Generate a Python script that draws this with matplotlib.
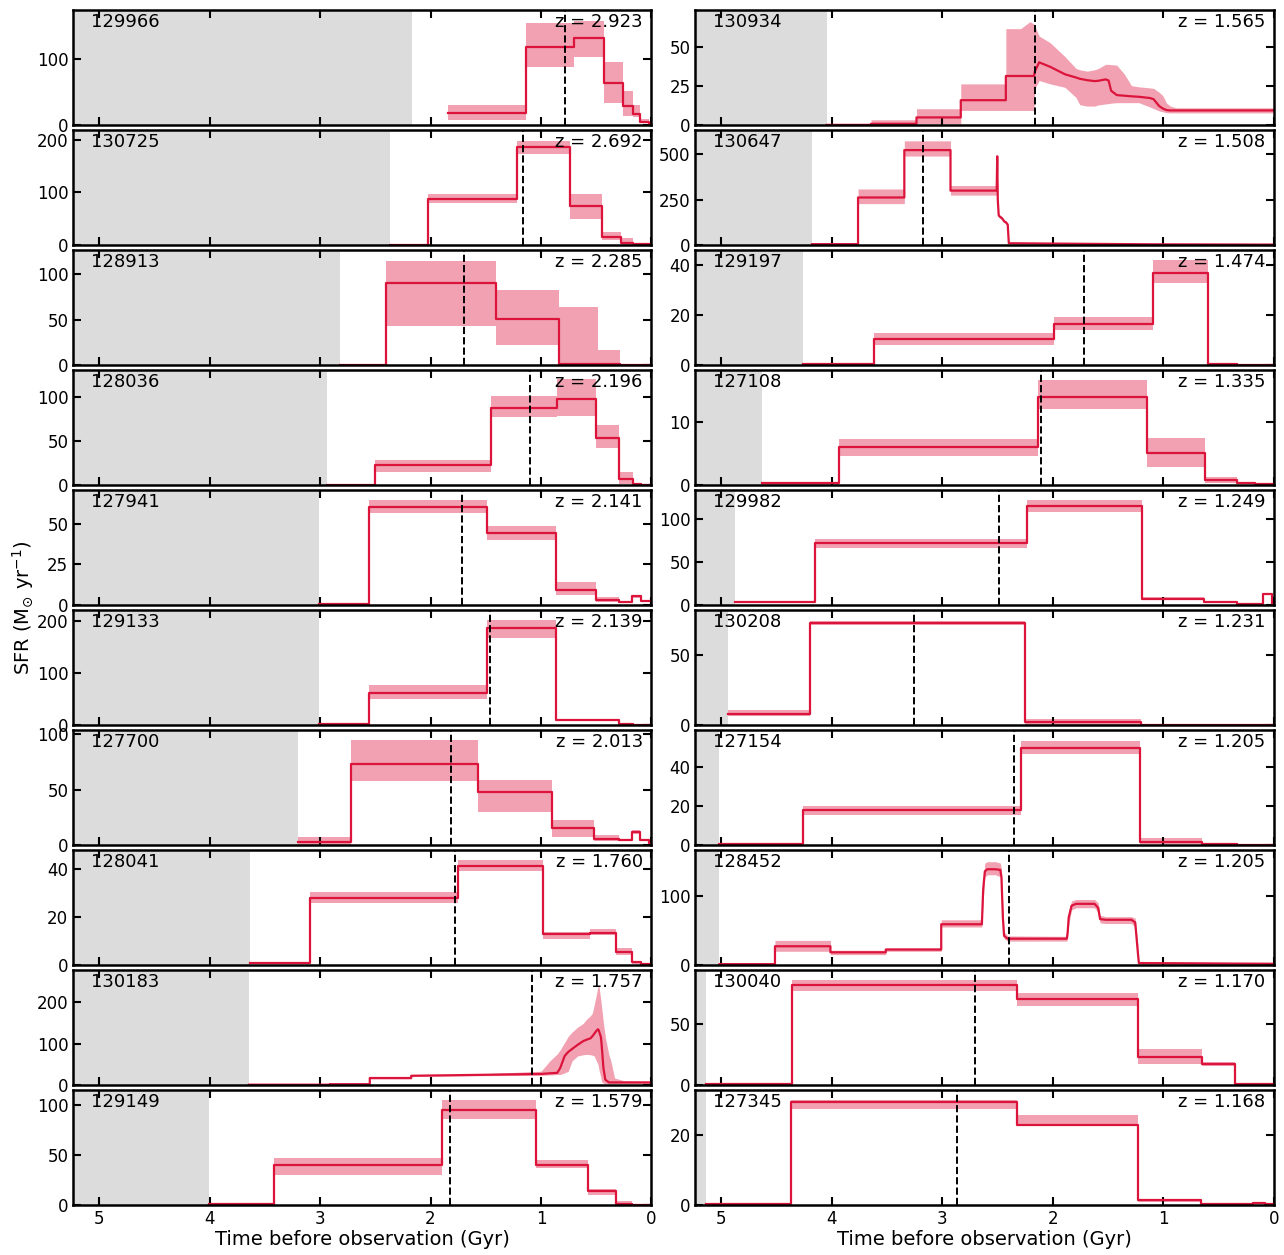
import numpy as np
import matplotlib.pyplot as plt

# ---------------- panel settings (left column top->bottom, then right column) ----------------
ids = ['129966', '130725', '128913', '128036', '127941', '129133', '127700', '128041', '130183', '129149',
       '130934', '130647', '129197', '127108', '129982', '130208', '127154', '128452', '130040', '127345']
zs = [2.923, 2.692, 2.285, 2.196, 2.141, 2.139, 2.013, 1.760, 1.757, 1.579,
      1.565, 1.508, 1.474, 1.335, 1.249, 1.231, 1.205, 1.205, 1.170, 1.168]
t_grey = [2.17, 2.37, 2.82, 2.94, 3.01, 3.01, 3.20, 3.637, 3.644, 4.01,
          4.047, 4.18, 4.26, 4.632, 4.877, 4.939, 5.018, 5.018, 5.137, 5.137]
t_dash = [0.785, 1.166, 1.70, 1.10, 1.716, 1.464, 1.813, 1.782, 1.083, 1.82,
          2.164, 3.177, 1.722, 2.105, 2.484, 3.256, 2.347, 2.40, 2.708, 2.87]
ymax = [175, 218, 127, 131, 71, 221, 104, 48, 279, 115,
        74, 635, 46, 18.2, 134.5, 82, 59, 167, 94, 32.7]
yticks = [[0, 100], [0, 100, 200], [0, 50, 100], [0, 50, 100], [0, 25, 50],
          [0, 100, 200], [0, 50, 100], [0, 20, 40], [0, 100, 200], [0, 50, 100],
          [0, 25, 50], [0, 250, 500], [0, 20, 40], [0, 10], [0, 50, 100],
          [0, 50], [0, 20, 40], [0, 100], [0, 50], [0, 20]]

# ---------------- SFHs: bin edges + values (staircase) or sampled curves ----------------
t_129966 = [1.844, 1.135, 0.699, 0.429, 0.26, 0.163, 0.10, 0.024, 0.0]
sfr_129966 = [18.5, 119, 132, 64, 29, 17, 5, 2]
lo_129966 = [6.7, 88, 103, 33, 13, 12, 3, 0.5]
hi_129966 = [29.7, 155, 159, 96, 52, 31, 9, 3]

t_130725 = [2.37, 2.024, 1.218, 0.74, 0.446, 0.273, 0.163, 0.0]
sfr_130725 = [0.5, 87, 185, 73, 15, 4, 1]
lo_130725 = [0, 80, 173, 50, 10, 0, 0]
hi_130725 = [1, 97, 197, 97, 25, 13, 2]

t_128913 = [2.82, 2.40, 1.41, 0.834, 0.484, 0.284, 0.0]
sfr_128913 = [0, 90, 50.7, 0.7, 0.5, 0]
lo_128913 = [0, 42.6, 22, 0, 0, 0]
hi_128913 = [0, 114.8, 82.6, 63.7, 16.7, 0]

t_128036 = [2.94, 2.505, 1.457, 0.851, 0.498, 0.291, 0.17, 0.093, 0.0]
sfr_128036 = [0.3, 22.4, 88, 98, 53.3, 6.6, 1, 0]
lo_128036 = [0, 14.7, 77.6, 78.4, 42.5, 1.2, 0, 0]
hi_128036 = [0.6, 28.6, 100.8, 120.5, 68.7, 14.7, 2, 0]

t_127941 = [3.01, 2.56, 1.49, 0.865, 0.502, 0.29, 0.173, 0.093, 0.0]
sfr_127941 = [0.6, 60.6, 44.6, 9.0, 2.9, 1.7, 5.4, 2.1]
lo_127941 = [0.3, 57, 39.8, 5.8, 1.7, 1.2, 4.2, 1.5]
hi_127941 = [0.9, 64.6, 48.5, 14.2, 4.6, 2.3, 6.3, 2.7]

t_129133 = [3.01, 2.56, 1.49, 0.865, 0.29, 0.163, 0.0]
sfr_129133 = [2, 61, 186.4, 9.7, 2, 0.5]
lo_129133 = [1, 50.6, 167.5, 7.8, 1, 0]
hi_129133 = [3, 76, 201.3, 11.7, 3, 1]

t_127700 = [3.2, 2.72, 1.567, 0.903, 0.519, 0.294, 0.173, 0.1, 0.024, 0.0]
sfr_127700 = [2.4, 73.5, 47.6, 15.5, 5.5, 4.3, 11.6, 4.6, 1.5]
lo_127700 = [0, 58.2, 29.3, 7.3, 3.7, 3.5, 9.8, 3.5, 0.5]
hi_127700 = [7, 95.1, 59.1, 22.6, 8.5, 5.1, 13.1, 5.5, 2.5]

t_128041 = [3.637, 3.087, 1.754, 0.986, 0.554, 0.318, 0.18, 0.093, 0.0]
sfr_128041 = [0.7, 28, 41.1, 12.8, 13.5, 5.5, 1, 0.3]
lo_128041 = [0.4, 26, 39.2, 11, 12.4, 3.9, 0.5, 0]
hi_128041 = [1, 30.3, 43.7, 13.8, 14.8, 7, 1.5, 0.6]

t_130183 = [3.644, 2.91, 2.91, 2.55, 2.55, 2.175, 2.175, 1.6, 1.0, 0.92, 0.853, 0.826, 0.786,
            0.753, 0.719, 0.669, 0.619, 0.585, 0.552, 0.535, 0.518, 0.502, 0.485, 0.478, 0.458,
            0.452, 0.435, 0.418, 0.385, 0.368, 0.334, 0.25, 0.0]
sfr_130183 = [0.3, 0.3, 1.5, 1.5, 16.5, 16.5, 22, 24, 26.4, 28, 29, 41, 70, 80, 87, 97, 106, 110,
              113, 118, 124, 130, 135, 133, 116, 100, 41, 12.4, 5.8, 5.8, 5.8, 5.8, 5.8]
lo_130183 = [0, 0, 0.5, 0.5, 14.5, 14.5, 20, 22, 23, 24, 25, 25, 29, 33, 58, 70, 73, 74, 73, 72,
             70, 60, 50, 40, 17, 8, 4, 3, 2.5, 2.5, 2.5, 2.5, 2.5]
hi_130183 = [0.6, 0.6, 2.5, 2.5, 18.5, 18.5, 24, 26, 33, 58, 75, 85, 103, 118, 128, 140, 149, 160,
             168, 174, 195, 215, 238, 244, 205, 190, 150, 116, 72, 58, 16.5, 10, 8]

t_129149 = [4.01, 3.415, 1.893, 1.045, 0.578, 0.325, 0.18, 0.0]
sfr_129149 = [0.7, 39.5, 94.6, 39.9, 13.5, 0.7, 0]
lo_129149 = [0.3, 29.7, 86, 36.5, 10, 0, 0]
hi_129149 = [1, 46.6, 104.7, 45, 15.5, 3.4, 0]

t_130934 = [4.047, 3.645, 3.645, 3.234, 3.234, 2.833, 2.833, 2.425, 2.425, 2.291, 2.207, 2.17,
            2.164, 2.124, 2.023, 1.890, 1.789, 1.756, 1.689, 1.622, 1.589, 1.522, 1.495, 1.472,
            1.421, 1.355, 1.288, 1.221, 1.12, 1.087, 1.037, 1.003, 0.97, 0.936, 0.886, 0.0]
sfr_130934 = [0, 0, 0.7, 0.7, 4.8, 4.8, 15.9, 15.9, 31.5, 31.5, 31.5, 31.5, 34.1, 40.3, 37.4, 32.6,
              30.5, 29.7, 28.8, 28.2, 28.4, 29.3, 28.6, 22, 19.2, 18.8, 18.4, 18.1, 17.3, 16.5,
              12.1, 10.5, 9.5, 9.3, 9.3, 9.3]
lo_130934 = [0, 0, 0, 0, 0.7, 0.7, 9.3, 9.3, 9.3, 9.3, 9.3, 9.3, 23, 28.6, 26.4, 24.2, 17.6, 13,
             12.1, 12.1, 12.8, 13.5, 13.7, 14, 14.3, 14.3, 14.3, 14.3, 11.5, 10.5, 9, 8.4, 7.9,
             7.7, 7.7, 7.7]
hi_130934 = [0, 0, 3.3, 3.3, 10.4, 10.4, 26.4, 26.4, 62, 62, 66.5, 65, 64, 57.3, 52.9, 44, 36.3,
             35.5, 34.6, 35.5, 36.3, 39, 39, 38.8, 38.5, 33, 25.3, 24.5, 23.8, 23.5, 21, 18.7,
             14, 12.1, 11, 11]

t_130647 = [4.18, 3.763, 3.763, 3.344, 3.344, 2.926, 2.926, 2.508, 2.503, 2.498, 2.49, 2.485,
            2.458, 2.44, 2.425, 2.408, 2.398, 1.99, 1.087, 0.0]
sfr_130647 = [4, 4, 262, 262, 524, 524, 300, 300, 490, 250, 165, 159, 146, 130, 125, 112, 9, 7,
              3, 1.5]
lo_130647 = [2, 2, 228, 228, 491, 491, 275, 275, 470, 235, 155, 150, 138, 123, 117, 105, 7, 5,
             2, 1]
hi_130647 = [6, 6, 309, 309, 575, 575, 328, 328, 510, 265, 175, 168, 154, 137, 133, 120, 11, 9,
             4, 2]

t_129197 = [4.26, 3.621, 1.989, 1.094, 0.596, 0.336, 0.0]
sfr_129197 = [0.4, 10.4, 16.5, 36.6, 0.3, 0]
lo_129197 = [0.2, 8.1, 14, 32.6, 0.1, 0]
hi_129197 = [0.6, 12.8, 19.2, 42, 0.5, 0]

t_127108 = [4.632, 3.935, 2.13, 1.148, 0.621, 0.329, 0.173, 0.0]
sfr_127108 = [0.27, 5.94, 13.96, 4.97, 0.7, 0.27, 0.1]
lo_127108 = [0, 4.5, 12.0, 2.9, 0.3, 0.1, 0]
hi_127108 = [0.4, 7.3, 16.6, 7.4, 1.2, 0.4, 0.2]

t_129982 = [4.877, 4.155, 2.231, 1.195, 0.635, 0.336, 0.101, 0.018, 0.0]
sfr_129982 = [3.2, 72.3, 115.4, 7.1, 3.6, 1.2, 13, 0]
lo_129982 = [1.6, 66.4, 108.7, 5.1, 2.8, 0.5, 11.5, 0]
hi_129982 = [4.7, 77.5, 123, 9.1, 4.4, 1.9, 14, 0]

t_130208 = [4.939, 4.199, 2.256, 1.202, 0.805, 0.0]
sfr_130208 = [7.7, 72.8, 1.9, 0.2, 0]
lo_130208 = [6, 71.6, 0.2, 0, 0]
hi_130208 = [10.8, 74.5, 4.3, 0.4, 0]

t_127154 = [5.018, 4.264, 2.285, 1.213, 0.65, 0.336, 0.0]
sfr_127154 = [0.5, 17.8, 49.8, 1.7, 0.3, 0]
lo_127154 = [0.2, 15.2, 46.9, 0.5, 0.1, 0]
hi_127154 = [0.8, 20, 53.6, 3.4, 0.5, 0]

t_128452 = [5.017, 4.515, 4.515, 4.013, 4.013, 3.512, 3.512, 3.01, 3.01, 2.642, 2.63, 2.615,
            2.592, 2.52, 2.475, 2.465, 2.452, 2.441, 2.408, 1.873, 1.865, 1.856, 1.83, 1.789,
            1.622, 1.589, 1.572, 1.522, 1.288, 1.254, 1.231, 1.221, 0.0]
sfr_128452 = [1, 1, 27, 27, 18.2, 18.2, 22.2, 22.2, 59, 59, 110, 136, 139, 139, 138, 128, 69, 42,
              38, 38, 48, 69, 86, 88.7, 88.7, 82.8, 66.5, 65.5, 65.5, 61.6, 19.7, 2.5, 1.5]
lo_128452 = [0.5, 0.5, 19.7, 19.7, 14.8, 14.8, 19.7, 19.7, 55, 55, 95, 128, 131, 131, 128, 110,
             55, 38, 34.5, 34.5, 40, 58, 80, 83, 83, 76, 61, 60, 60, 55, 12, 1, 0.5]
hi_128452 = [2, 2, 35.5, 35.5, 21.2, 21.2, 24.6, 24.6, 65.5, 65.5, 125, 148, 150, 150, 148, 140,
             85, 48, 42, 41.4, 58, 78, 93, 95, 95, 90, 72, 70, 70, 68, 30, 5, 2.5]

t_130040 = [5.137, 4.361, 2.321, 1.231, 0.653, 0.347, 0.0]
sfr_130040 = [0.8, 81.5, 69.9, 22.4, 16.9, 0.3]
lo_130040 = [0.4, 76.8, 64.9, 17.4, 15.5, 0]
hi_130040 = [1.2, 85.6, 75.4, 29.3, 18.8, 0.6]

t_127345 = [5.137, 4.368, 2.321, 1.231, 0.661, 0.191, 0.08, 0.0]
sfr_127345 = [0.3, 29.3, 22.6, 1.25, 0.2, 0.4, 0.2]
lo_127345 = [0.1, 27.2, 22.6, 0.8, 0.1, 0.3, 0.1]
hi_127345 = [0.5, 29.8, 25.5, 1.7, 0.3, 0.5, 0.3]

sfhs = [
    (t_129966, sfr_129966, lo_129966, hi_129966), (t_130725, sfr_130725, lo_130725, hi_130725),
    (t_128913, sfr_128913, lo_128913, hi_128913), (t_128036, sfr_128036, lo_128036, hi_128036),
    (t_127941, sfr_127941, lo_127941, hi_127941), (t_129133, sfr_129133, lo_129133, hi_129133),
    (t_127700, sfr_127700, lo_127700, hi_127700), (t_128041, sfr_128041, lo_128041, hi_128041),
    (t_130183, sfr_130183, lo_130183, hi_130183), (t_129149, sfr_129149, lo_129149, hi_129149),
    (t_130934, sfr_130934, lo_130934, hi_130934), (t_130647, sfr_130647, lo_130647, hi_130647),
    (t_129197, sfr_129197, lo_129197, hi_129197), (t_127108, sfr_127108, lo_127108, hi_127108),
    (t_129982, sfr_129982, lo_129982, hi_129982), (t_130208, sfr_130208, lo_130208, hi_130208),
    (t_127154, sfr_127154, lo_127154, hi_127154), (t_128452, sfr_128452, lo_128452, hi_128452),
    (t_130040, sfr_130040, lo_130040, hi_130040), (t_127345, sfr_127345, lo_127345, hi_127345),
]


def expand(t, v):
    # bin edges (one more than values) become a staircase, otherwise keep the curve as is
    t = np.asarray(t, float)
    v = np.asarray(v, float)
    if len(t) == len(v) + 1:
        return np.repeat(t, 2)[1:-1], np.repeat(v, 2)
    return t, v


fig, axes = plt.subplots(10, 2, figsize=(12.84, 12.55), dpi=100, sharex=True)
fig.subplots_adjust(left=0.057, right=0.992, top=0.992, bottom=0.04, hspace=0.045, wspace=0.076)

for i, ax in enumerate(axes.T.flatten()):
    t, sfr, lo, hi = sfhs[i]
    x, y = expand(t, sfr)
    _, ylo = expand(t, lo)
    _, yhi = expand(t, hi)

    ax.axvspan(t_grey[i], 6, color='#dcdcdc', lw=0, zorder=0)
    ax.fill_between(x, ylo, yhi, color='crimson', alpha=0.4, lw=0)
    ax.plot(x, y, color='crimson', lw=1.6)
    ax.axvline(t_dash[i], color='k', ls='--', lw=1.4)

    ax.set_xlim(5.235, 0)
    ax.set_ylim(0, ymax[i])
    ax.set_yticks(yticks[i])
    ax.set_xticks([0, 1, 2, 3, 4, 5])
    ax.tick_params(direction='in', top=True, right=True, length=6, width=1.5, labelsize=12)
    for s in ax.spines.values():
        s.set_linewidth(1.8)

    ax.text(0.03, 0.97, ids[i], transform=ax.transAxes, ha='left', va='top', fontsize=13)
    ax.text(0.985, 0.97, 'z = %.3f' % zs[i], transform=ax.transAxes, ha='right', va='top',
            fontsize=13)

for ax in axes[-1]:
    ax.set_xlabel('Time before observation (Gyr)', fontsize=14, labelpad=2)

fig.text(0.018, 0.516, r'SFR (M$_{\odot}$ yr$^{-1}$)', rotation=90, va='center', ha='center',
         fontsize=14)

plt.savefig('out.png', dpi=100)
